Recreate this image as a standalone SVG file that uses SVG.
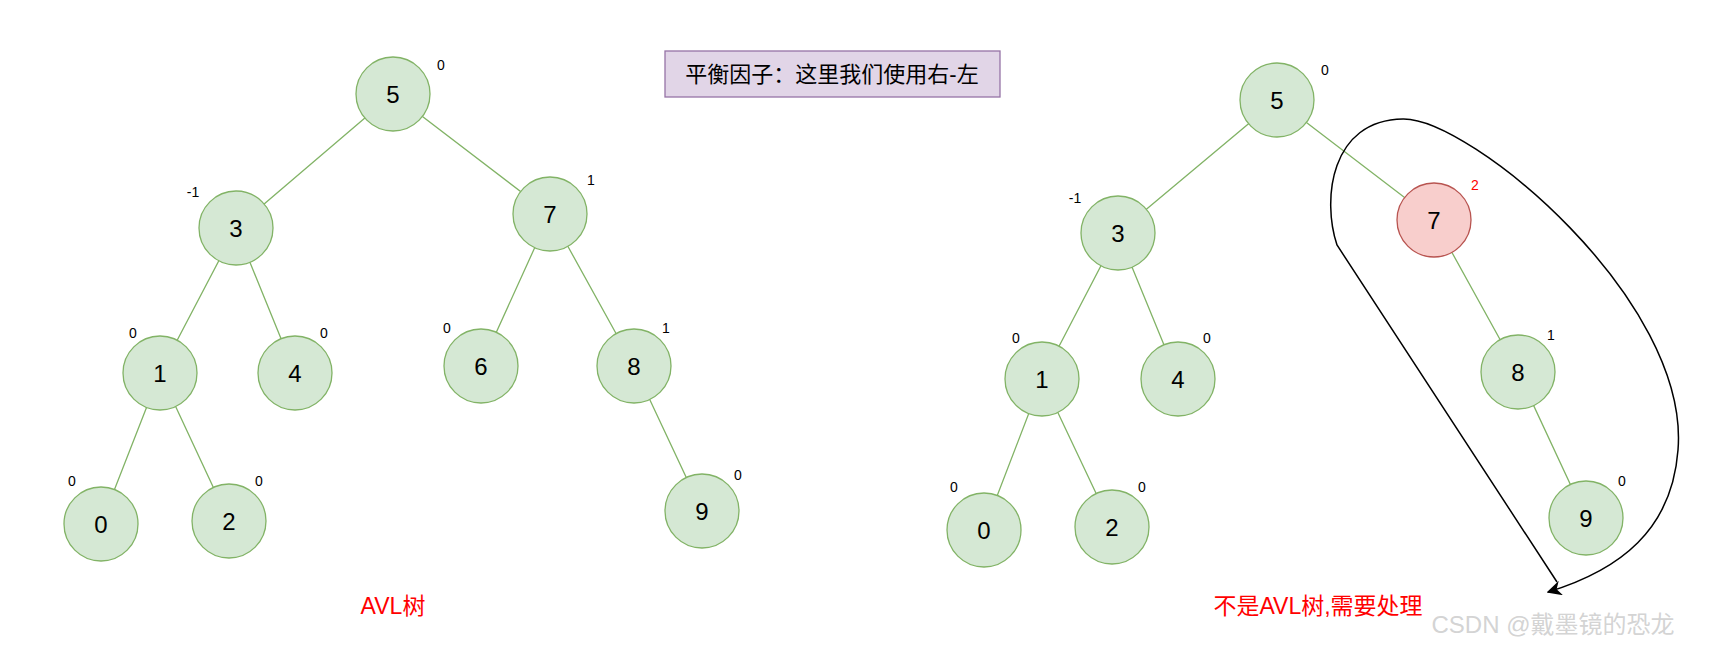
<svg xmlns="http://www.w3.org/2000/svg" width="1717" height="648" viewBox="0 0 1717 648">
<style>
.n{fill:#d5e8d4;stroke:#82b366;stroke-width:1.3}
.r{fill:#f8cecc;stroke:#b85450;stroke-width:1.3}
.t{font-family:"Liberation Sans",Arial,sans-serif;font-size:24px;text-anchor:middle;dominant-baseline:central;fill:#000}
.b{font-family:"Liberation Sans",Arial,sans-serif;font-size:14px;text-anchor:middle;dominant-baseline:central;fill:#000}
.e{stroke:#82b366;stroke-width:1.3;fill:none}
.cn{font-family:"Liberation Sans","Noto Sans CJK SC",sans-serif;text-anchor:middle;dominant-baseline:central}
</style>
<defs><marker id="ar" viewBox="0 0 10 10" refX="9" refY="5" markerWidth="10" markerHeight="10" orient="auto"><path d="M0,0 L10,5 L0,10 L3,5 Z" fill="#000"/></marker></defs>
<rect width="1717" height="648" fill="#fff"/>
<g id="connectors">
<path class="e" d="M393,94L236,228M393,94L550,214M236,228L160,373M236,228L295,373M550,214L481,366M550,214L634,366M160,373L101,524M160,373L229,521M634,366L702,511"/>
<path class="e" d="M1277,100L1118,233M1277,100L1434,220M1118,233L1042,379M1118,233L1178,379M1434,220L1518,372M1042,379L984,530M1042,379L1112,527M1518,372L1586,518"/>
<path d="M1557,582 L1337,245 C1322,200 1330,120 1403,119 C1470,118 1690,300 1678,450 C1672,530 1620,570 1548,592" fill="none" stroke="#000" stroke-width="1.5" marker-end="url(#ar)"/>
</g>
<g id="L5"><circle class="n" cx="393" cy="94" r="37"/><text class="t" x="393" y="94">5</text><text class="b" x="441" y="65">0</text></g>
<g id="L3"><circle class="n" cx="236" cy="228" r="37"/><text class="t" x="236" y="228">3</text><text class="b" x="193" y="192">-1</text></g>
<g id="L7"><circle class="n" cx="550" cy="214" r="37"/><text class="t" x="550" y="214">7</text><text class="b" x="591" y="180">1</text></g>
<g id="L1"><circle class="n" cx="160" cy="373" r="37"/><text class="t" x="160" y="373">1</text><text class="b" x="133" y="333">0</text></g>
<g id="L4"><circle class="n" cx="295" cy="373" r="37"/><text class="t" x="295" y="373">4</text><text class="b" x="324" y="333">0</text></g>
<g id="L6"><circle class="n" cx="481" cy="366" r="37"/><text class="t" x="481" y="366">6</text><text class="b" x="447" y="328">0</text></g>
<g id="L8"><circle class="n" cx="634" cy="366" r="37"/><text class="t" x="634" y="366">8</text><text class="b" x="666" y="328">1</text></g>
<g id="L0"><circle class="n" cx="101" cy="524" r="37"/><text class="t" x="101" y="524">0</text><text class="b" x="72" y="481">0</text></g>
<g id="L2"><circle class="n" cx="229" cy="521" r="37"/><text class="t" x="229" y="521">2</text><text class="b" x="259" y="481">0</text></g>
<g id="L9"><circle class="n" cx="702" cy="511" r="37"/><text class="t" x="702" y="511">9</text><text class="b" x="738" y="475">0</text></g>
<g id="R5"><circle class="n" cx="1277" cy="100" r="37"/><text class="t" x="1277" y="100">5</text><text class="b" x="1325" y="70">0</text></g>
<g id="R3"><circle class="n" cx="1118" cy="233" r="37"/><text class="t" x="1118" y="233">3</text><text class="b" x="1075" y="198">-1</text></g>
<g id="R7"><circle class="r" cx="1434" cy="220" r="37"/><text class="t" x="1434" y="220">7</text><text class="b" x="1475" y="185" style="fill:#ff0000">2</text></g>
<g id="R1"><circle class="n" cx="1042" cy="379" r="37"/><text class="t" x="1042" y="379">1</text><text class="b" x="1016" y="338">0</text></g>
<g id="R4"><circle class="n" cx="1178" cy="379" r="37"/><text class="t" x="1178" y="379">4</text><text class="b" x="1207" y="338">0</text></g>
<g id="R8"><circle class="n" cx="1518" cy="372" r="37"/><text class="t" x="1518" y="372">8</text><text class="b" x="1551" y="335">1</text></g>
<g id="R0"><circle class="n" cx="984" cy="530" r="37"/><text class="t" x="984" y="530">0</text><text class="b" x="954" y="487">0</text></g>
<g id="R2"><circle class="n" cx="1112" cy="527" r="37"/><text class="t" x="1112" y="527">2</text><text class="b" x="1142" y="487">0</text></g>
<g id="R9"><circle class="n" cx="1586" cy="518" r="37"/><text class="t" x="1586" y="518">9</text><text class="b" x="1622" y="481">0</text></g>
<g id="title"><rect x="665" y="51" width="335" height="46" fill="#e1d5e7" stroke="#9673a6" stroke-width="1.3"/><text class="cn" x="832" y="74" font-size="22">平衡因子：这里我们使用右-左</text></g>
<text class="cn" x="393" y="606" font-size="23" fill="#ff0000">AVL树</text>
<text class="cn" x="1318" y="606" font-size="23" fill="#ff0000">不是AVL树,需要处理</text>
<text class="cn" x="1553" y="624" font-size="24" fill="#c8c8c8" fill-opacity="0.8">CSDN @戴墨镜的恐龙</text>
</svg>
